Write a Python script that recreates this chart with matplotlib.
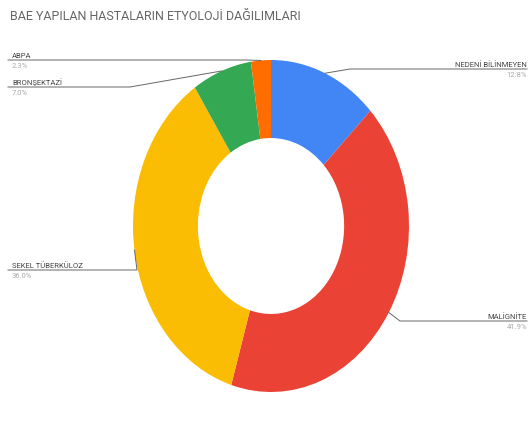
import numpy as np
import matplotlib
matplotlib.use("Agg")
import matplotlib.pyplot as plt

# etiology distribution
labels = ["NEDENİ BİLİNMEYEN", "MALİGNİTE", "SEKEL TÜBERKÜLOZ", "BRONŞEKTAZİ", "ABPA"]
counts = [11, 36, 31, 6, 2]
colors = ["#4285F4", "#EA4335", "#FBBC04", "#34A853", "#FF6D01"]

W, H = 532, 427
plt.rcParams['font.family'] = ['Roboto', 'DejaVu Sans']

fig = plt.figure(figsize=(W / 100, H / 100), dpi=100)


def fx(px):
    return px / W


def fy(py):
    return 1 - py / H


# donut, slightly taller than wide
cx, cy, rx, ry = 271, 227, 138, 166
ax = fig.add_axes([fx(cx - rx), fy(cy + ry), 2 * rx / W, 2 * ry / H])
wedges, _ = ax.pie(counts, colors=colors, startangle=90, counterclock=False,
                   radius=1, wedgeprops=dict(width=0.47, linewidth=0))
ax.set_aspect('auto')
ax.set_xlim(-1, 1)
ax.set_ylim(-1, 1)
ax.axis('off')

fig.text(fx(10), fy(16), "BAE YAPILAN HASTALARIN ETYOLOJİ DAĞILIMLARI",
         fontsize=9, color="#666666", va='center', ha='left')

total = sum(counts)
pcts = [100 * c / total for c in counts]

# label placement: (side, line y, line end x towards the pie)
layout = {
    "NEDENİ BİLİNMEYEN": ("right", 70, 350),
    "MALİGNİTE": ("right", 322, 400),
    "SEKEL TÜBERKÜLOZ": ("left", 271, 137),
    "BRONŞEKTAZİ": ("left", 88, 130),
    "ABPA": ("left", 61, 245),
}

for w, lab, p in zip(wedges, labels, pcts):
    mid = np.deg2rad((w.theta1 + w.theta2) / 2)
    axp = cx + rx * np.cos(mid)
    ayp = cy - ry * np.sin(mid)
    side, ly, lx = layout[lab]
    if side == "left":
        xs = [8, lx, axp]
        tx, ha = 12, 'left'
    else:
        xs = [527, lx, axp]
        tx, ha = 527, 'right'
    ys = [ly, ly, ayp]
    fig.add_artist(plt.Line2D([fx(v) for v in xs], [fy(v) for v in ys],
                              color="#666666", lw=0.7))
    fig.text(fx(tx), fy(ly - 2), lab, fontsize=5.5, color="#444444",
             ha=ha, va='bottom')
    fig.text(fx(tx), fy(ly + 2), f"{p:.1f}%", fontsize=5.5, color="#aaaaaa",
             ha=ha, va='top')

fig.savefig("out.png", dpi=100)
